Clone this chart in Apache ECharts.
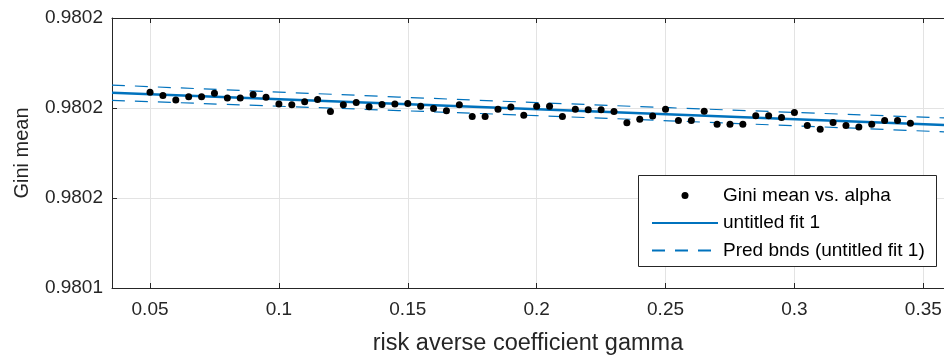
<!DOCTYPE html>
<html>
<head>
<meta charset="utf-8">
<script src="https://cdn.jsdelivr.net/npm/echarts@6/dist/echarts.min.js"></script>
<style>html,body{margin:0;padding:0;background:#fff}#c{width:944px;height:356px}</style>
</head>
<body>
<div id="c"></div>
<script>
var gammaX = [0.05,0.055,0.06,0.065,0.07,0.075,0.08,0.085,0.09,0.095,
  0.1,0.105,0.11,0.115,0.12,0.125,0.13,0.135,0.14,0.145,
  0.15,0.155,0.16,0.165,0.17,0.175,0.18,0.185,0.19,0.195,
  0.2,0.205,0.21,0.215,0.22,0.225,0.23,0.235,0.24,0.245,
  0.25,0.255,0.26,0.265,0.27,0.275,0.28,0.285,0.29,0.295,
  0.3,0.305,0.31,0.315,0.32,0.325,0.33,0.335,0.34,0.345];
var giniMean = [0.9801835,0.9801828,0.9801818,0.9801825,0.9801825,0.9801833,0.9801822,0.9801822,0.9801830,0.9801824,
  0.9801809,0.9801807,0.9801814,0.9801819,0.9801792,0.9801807,0.9801812,0.9801803,0.9801808,0.9801809,
  0.9801810,0.9801804,0.9801799,0.9801794,0.9801807,0.9801781,0.9801781,0.9801797,0.9801802,0.9801784,
  0.9801804,0.9801804,0.9801781,0.9801797,0.9801796,0.9801796,0.9801792,0.9801767,0.9801775,0.9801782,
  0.9801797,0.9801772,0.9801772,0.9801793,0.9801764,0.9801764,0.9801764,0.9801783,0.9801783,0.9801779,
  0.9801790,0.9801761,0.9801753,0.9801768,0.9801761,0.9801758,0.9801764,0.9801772,0.9801772,0.9801766];
var fitX = [0.03525, 0.35803];
var fitY = [0.9801834, 0.9801762];
var bndX = [0.03525, 0.2, 0.35803];
var bndUpper = [0.9801851, 0.9801812, 0.9801778];
var bndLower = [0.9801817, 0.9801783, 0.9801747];
var xTicks = [0.05, 0.1, 0.15, 0.2, 0.25, 0.3, 0.35];
var yTicks = [0.98014, 0.98016, 0.98018, 0.9802];
var xRange = [0.03525, 0.35803];
var yRange = [0.98014, 0.9802];

function pairs(xs, ys) { return xs.map(function (x, i) { return [x, ys[i]]; }); }

var FONT = 'Liberation Sans';
var TXT = '#262626';
var BLUE = '#0072BD';
var HIDE = {color: 'rgba(0,0,0,0)', borderColor: 'rgba(0,0,0,0)', borderWidth: 0, opacity: 0};
var chart = echarts.init(document.getElementById('c'), null, {renderer: 'canvas'});
chart.setOption({
  animation: false,
  backgroundColor: '#fff',
  grid: {left: 112, top: 18, right: 0, bottom: 68, containLabel: false, outerBoundsMode: 'none'},
  graphic: [{
    type: 'rect', left: 638, top: 175, z: 20, silent: true,
    shape: {width: 298, height: 91},
    style: {fill: '#fff', stroke: TXT, lineWidth: 1}
  }],
  xAxis: [{
    type: 'value', min: xRange[0], max: xRange[1], position: 'bottom',
    name: 'risk averse coefficient gamma', nameLocation: 'middle', nameGap: 44,
    nameTextStyle: {fontFamily: FONT, fontSize: 23.5, color: TXT},
    axisLine: {show: true, onZero: false, lineStyle: {color: TXT, width: 1}},
    axisTick: {show: true, inside: true, length: 5, customValues: xTicks, lineStyle: {color: TXT}},
    axisLabel: {customValues: xTicks, fontFamily: FONT, fontSize: 19, color: TXT, margin: 12,
      formatter: function (v) { return String(+v.toFixed(4)); }},
    splitLine: {show: true, lineStyle: {color: '#e3e3e3', width: 1}}
  }, {
    type: 'value', min: xRange[0], max: xRange[1], position: 'top',
    axisLine: {show: true, onZero: false, lineStyle: {color: TXT, width: 1}},
    axisTick: {show: true, inside: true, length: 5, customValues: xTicks, lineStyle: {color: TXT}},
    axisLabel: {show: false}, splitLine: {show: false}
  }],
  yAxis: [{
    type: 'value', min: yRange[0], max: yRange[1], position: 'left',
    name: 'Gini mean', nameLocation: 'middle', nameGap: 80,
    nameTextStyle: {fontFamily: FONT, fontSize: 20, color: TXT},
    axisLine: {show: true, onZero: false, lineStyle: {color: TXT, width: 1}},
    axisTick: {show: true, inside: true, length: 5, customValues: yTicks, lineStyle: {color: TXT}},
    axisLabel: {customValues: yTicks, fontFamily: FONT, fontSize: 19, color: TXT, margin: 9,
      formatter: function (v) { return v.toFixed(4); }},
    splitLine: {show: true, lineStyle: {color: '#e3e3e3', width: 1}}
  }],
  legend: {
    show: true, orient: 'vertical', left: 638, top: 175, z: 30,
    backgroundColor: 'transparent', borderWidth: 0,
    padding: [11, 6, 11, 13], itemWidth: 66, itemHeight: 7, itemGap: 8.5, itemTextGap: 5,
    textStyle: {fontFamily: FONT, fontSize: 19, color: '#000', lineHeight: 14},
    data: [
      {name: 'Gini mean vs. alpha', icon: 'circle', itemStyle: {color: '#000', opacity: 1}},
      {name: 'untitled fit 1', itemStyle: HIDE},
      {name: 'Pred bnds (untitled fit 1)', itemStyle: HIDE}
    ]
  },
  series: [
    {name: 'untitled fit 1', type: 'line', data: pairs(fitX, fitY), symbol: 'none', z: 3,
      lineStyle: {color: BLUE, width: 2.5}, itemStyle: {color: BLUE}},
    {name: 'Pred bnds (untitled fit 1)', type: 'line', data: pairs(bndX, bndUpper), symbol: 'none', smooth: 0.4, z: 3,
      lineStyle: {color: BLUE, width: 1.2, type: [13, 10]}, itemStyle: {color: BLUE}},
    {name: 'Pred bnds (untitled fit 1)', type: 'line', data: pairs(bndX, bndLower), symbol: 'none', smooth: 0.4, z: 3,
      lineStyle: {color: BLUE, width: 1.2, type: [13, 10]}, itemStyle: {color: BLUE}},
    {name: 'Gini mean vs. alpha', type: 'scatter', data: pairs(gammaX, giniMean), symbol: 'circle', symbolSize: 7, z: 4,
      itemStyle: {color: '#000', opacity: 1}}
  ]
});
</script>
</body>
</html>
